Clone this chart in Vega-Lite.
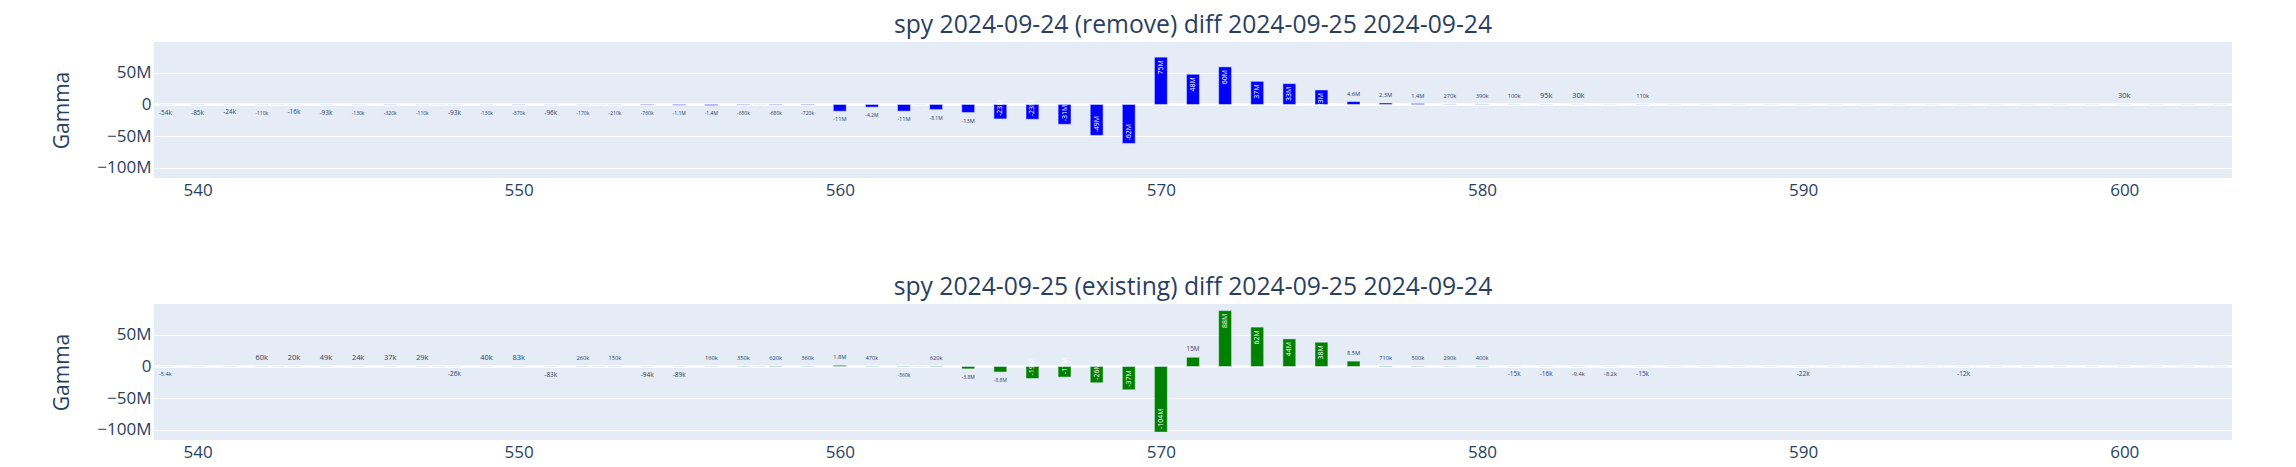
{
  "$schema": "https://vega.github.io/schema/vega-lite/v6.json",
  "autosize": {"type": "pad"},
  "padding": {"left": 51, "top": 12, "right": 64, "bottom": 5},
  "background": "white",
  "spacing": 126,
  "bounds": "flush",
  "config": {
    "view": {"fill": "#E5ECF6", "stroke": null},
    "font": "Open Sans",
    "title": {"fontSize": 24.7, "fontWeight": "normal", "color": "#2a3f5f", "font": "Open Sans", "offset": 4.5, "anchor": "middle"}
  },
  "datasets": {
    "top": [
      {"strike": 539, "gamma": -54000, "label": "-54k"},
      {"strike": 540, "gamma": -85000, "label": "-85k"},
      {"strike": 541, "gamma": -24000, "label": "-24k"},
      {"strike": 542, "gamma": -110000, "label": "-110k"},
      {"strike": 542.5, "gamma": -20000, "label": ""},
      {"strike": 543, "gamma": -16000, "label": "-16k"},
      {"strike": 544, "gamma": -93000, "label": "-93k"},
      {"strike": 545, "gamma": -130000, "label": "-130k"},
      {"strike": 546, "gamma": -320000, "label": "-320k"},
      {"strike": 547, "gamma": -110000, "label": "-110k"},
      {"strike": 547.5, "gamma": -20000, "label": ""},
      {"strike": 548, "gamma": -93000, "label": "-93k"},
      {"strike": 549, "gamma": -130000, "label": "-130k"},
      {"strike": 550, "gamma": -370000, "label": "-370k"},
      {"strike": 551, "gamma": -96000, "label": "-96k"},
      {"strike": 552, "gamma": -170000, "label": "-170k"},
      {"strike": 552.5, "gamma": -20000, "label": ""},
      {"strike": 553, "gamma": -210000, "label": "-210k"},
      {"strike": 554, "gamma": -760000, "label": "-760k"},
      {"strike": 555, "gamma": -1100000, "label": "-1.1M"},
      {"strike": 556, "gamma": -1400000, "label": "-1.4M"},
      {"strike": 557, "gamma": -650000, "label": "-650k"},
      {"strike": 557.5, "gamma": -20000, "label": ""},
      {"strike": 558, "gamma": -680000, "label": "-680k"},
      {"strike": 559, "gamma": -720000, "label": "-720k"},
      {"strike": 560, "gamma": -10700000, "label": "-11M"},
      {"strike": 561, "gamma": -4200000, "label": "-4.2M"},
      {"strike": 562, "gamma": -10600000, "label": "-11M"},
      {"strike": 562.5, "gamma": -20000, "label": ""},
      {"strike": 563, "gamma": -8100000, "label": "-8.1M"},
      {"strike": 564, "gamma": -12800000, "label": "-13M"},
      {"strike": 565, "gamma": -22900000, "label": "-23M"},
      {"strike": 566, "gamma": -23400000, "label": "-23M"},
      {"strike": 567, "gamma": -31400000, "label": "-31M"},
      {"strike": 568, "gamma": -49000000, "label": "-49M"},
      {"strike": 569, "gamma": -61800000, "label": "-62M"},
      {"strike": 570, "gamma": 75000000, "label": "75M"},
      {"strike": 571, "gamma": 47900000, "label": "48M"},
      {"strike": 572, "gamma": 59600000, "label": "60M"},
      {"strike": 573, "gamma": 36700000, "label": "37M"},
      {"strike": 574, "gamma": 33000000, "label": "33M"},
      {"strike": 575, "gamma": 23000000, "label": "23M"},
      {"strike": 576, "gamma": 4600000, "label": "4.6M"},
      {"strike": 577, "gamma": 2300000, "label": "2.3M"},
      {"strike": 578, "gamma": 1400000, "label": "1.4M"},
      {"strike": 579, "gamma": 270000, "label": "270k"},
      {"strike": 580, "gamma": 390000, "label": "390k"},
      {"strike": 581, "gamma": 100000, "label": "100k"},
      {"strike": 582, "gamma": 95000, "label": "95k"},
      {"strike": 583, "gamma": 30000, "label": "30k"},
      {"strike": 584, "gamma": 0, "label": ""},
      {"strike": 585, "gamma": 110000, "label": "110k"},
      {"strike": 586, "gamma": 0, "label": ""},
      {"strike": 587, "gamma": 0, "label": ""},
      {"strike": 588, "gamma": 0, "label": ""},
      {"strike": 589, "gamma": 0, "label": ""},
      {"strike": 590, "gamma": 0, "label": ""},
      {"strike": 591, "gamma": 0, "label": ""},
      {"strike": 592, "gamma": 0, "label": ""},
      {"strike": 593, "gamma": 0, "label": ""},
      {"strike": 594, "gamma": 0, "label": ""},
      {"strike": 595, "gamma": 0, "label": ""},
      {"strike": 596, "gamma": 0, "label": ""},
      {"strike": 597, "gamma": 0, "label": ""},
      {"strike": 598, "gamma": 0, "label": ""},
      {"strike": 599, "gamma": 0, "label": ""},
      {"strike": 600, "gamma": 30000, "label": "30k"},
      {"strike": 601, "gamma": 0, "label": ""},
      {"strike": 602, "gamma": 0, "label": ""},
      {"strike": 603, "gamma": 0, "label": ""}
    ],
    "bottom": [
      {"strike": 539, "gamma": -5400, "label": "-5.4k"},
      {"strike": 540, "gamma": 0, "label": ""},
      {"strike": 541, "gamma": 0, "label": ""},
      {"strike": 542, "gamma": 60000, "label": "60k"},
      {"strike": 542.5, "gamma": 0, "label": ""},
      {"strike": 543, "gamma": 20000, "label": "20k"},
      {"strike": 544, "gamma": 49000, "label": "49k"},
      {"strike": 545, "gamma": 24000, "label": "24k"},
      {"strike": 546, "gamma": 37000, "label": "37k"},
      {"strike": 547, "gamma": 29000, "label": "29k"},
      {"strike": 547.5, "gamma": 0, "label": ""},
      {"strike": 548, "gamma": -26000, "label": "-26k"},
      {"strike": 549, "gamma": 40000, "label": "40k"},
      {"strike": 550, "gamma": 83000, "label": "83k"},
      {"strike": 551, "gamma": -83000, "label": "-83k"},
      {"strike": 552, "gamma": 260000, "label": "260k"},
      {"strike": 552.5, "gamma": 0, "label": ""},
      {"strike": 553, "gamma": 150000, "label": "150k"},
      {"strike": 554, "gamma": -94000, "label": "-94k"},
      {"strike": 555, "gamma": -89000, "label": "-89k"},
      {"strike": 556, "gamma": 160000, "label": "160k"},
      {"strike": 557, "gamma": 350000, "label": "350k"},
      {"strike": 557.5, "gamma": 0, "label": ""},
      {"strike": 558, "gamma": 620000, "label": "620k"},
      {"strike": 559, "gamma": 360000, "label": "360k"},
      {"strike": 560, "gamma": 1800000, "label": "1.8M"},
      {"strike": 561, "gamma": 470000, "label": "470k"},
      {"strike": 562, "gamma": -560000, "label": "-560k"},
      {"strike": 562.5, "gamma": 0, "label": ""},
      {"strike": 563, "gamma": 620000, "label": "620k"},
      {"strike": 564, "gamma": -3800000, "label": "-3.8M"},
      {"strike": 565, "gamma": -8800000, "label": "-8.8M"},
      {"strike": 566, "gamma": -19000000, "label": "-19M"},
      {"strike": 567, "gamma": -16800000, "label": "-17M"},
      {"strike": 568, "gamma": -25800000, "label": "-26M"},
      {"strike": 569, "gamma": -36900000, "label": "-37M"},
      {"strike": 570, "gamma": -104000000, "label": "-104M"},
      {"strike": 571, "gamma": 14600000, "label": "15M"},
      {"strike": 572, "gamma": 88500000, "label": "88M"},
      {"strike": 573, "gamma": 62400000, "label": "62M"},
      {"strike": 574, "gamma": 43700000, "label": "44M"},
      {"strike": 575, "gamma": 38400000, "label": "38M"},
      {"strike": 576, "gamma": 8500000, "label": "8.5M"},
      {"strike": 577, "gamma": 710000, "label": "710k"},
      {"strike": 578, "gamma": 500000, "label": "500k"},
      {"strike": 579, "gamma": 290000, "label": "290k"},
      {"strike": 580, "gamma": 400000, "label": "400k"},
      {"strike": 581, "gamma": -15000, "label": "-15k"},
      {"strike": 582, "gamma": -16000, "label": "-16k"},
      {"strike": 583, "gamma": -9400, "label": "-9.4k"},
      {"strike": 584, "gamma": -8200, "label": "-8.2k"},
      {"strike": 585, "gamma": -15000, "label": "-15k"},
      {"strike": 586, "gamma": 0, "label": ""},
      {"strike": 587, "gamma": 0, "label": ""},
      {"strike": 588, "gamma": 0, "label": ""},
      {"strike": 589, "gamma": 0, "label": ""},
      {"strike": 590, "gamma": -22000, "label": "-22k"},
      {"strike": 591, "gamma": 0, "label": ""},
      {"strike": 592, "gamma": 0, "label": ""},
      {"strike": 593, "gamma": 0, "label": ""},
      {"strike": 594, "gamma": 0, "label": ""},
      {"strike": 595, "gamma": -12000, "label": "-12k"},
      {"strike": 596, "gamma": 0, "label": ""},
      {"strike": 597, "gamma": 0, "label": ""},
      {"strike": 598, "gamma": 0, "label": ""},
      {"strike": 599, "gamma": 0, "label": ""},
      {"strike": 600, "gamma": 0, "label": ""},
      {"strike": 601, "gamma": 0, "label": ""},
      {"strike": 602, "gamma": 0, "label": ""},
      {"strike": 603, "gamma": 0, "label": ""}
    ]
  },
  "vconcat": [
    {
      "width": 2078,
      "height": 136,
      "title": "spy 2024-09-24 (remove) diff 2024-09-25 2024-09-24",
      "data": {"name": "top"},
      "encoding": {
        "x": {"field": "strike", "type": "quantitative",
          "scale": {"domain": [538.8, 603.2], "nice": false, "zero": false},
          "axis": {"values": [540, 550, 560, 570, 580, 590, 600], "grid": false, "domain": false, "ticks": false, "tickSize": 0, "labelFontSize": 17, "labelColor": "#2a3f5f", "labelFont": "Open Sans", "labelPadding": 4, "title": null, "labelFlush": false, "labelOverlap": false}},
        "y": {"field": "gamma", "type": "quantitative", "stack": null,
          "scale": {"domain": [-116500000, 99000000], "nice": false},
          "axis": {"values": [-100000000, -50000000, 0, 50000000], "labelExpr": "datum.value == 0 ? '0' : format(datum.value / 1000000, 'd') + 'M'", "grid": true, "gridColor": "white", "gridWidth": {"condition": {"test": "datum.value === 0", "value": 2.4}, "value": 1.2}, "domain": false, "ticks": false, "tickSize": 0, "labelFontSize": 17, "labelColor": "#2a3f5f", "labelFont": "Open Sans", "labelPadding": 3, "title": "Gamma", "titleFontSize": 21, "titleColor": "#2a3f5f", "titleFont": "Open Sans", "titleFontWeight": "normal", "titleX": -92, "titleY": 68, "titleAngle": 270, "titleAlign": "center", "titleBaseline": "middle"}}
      },
      "layer": [
        {"mark": {"type": "bar", "width": 12.9, "color": "blue", "stroke": "#E5ECF6", "strokeWidth": 0.5}},
        {"transform": [{"filter": "datum.label != '' && datum.gamma >= 0 && datum.gamma < 16000000"}],
         "mark": {"type": "text", "baseline": "middle", "dy": -8, "color": "#2a3f5f", "font": "Open Sans"},
         "encoding": {"text": {"field": "label"},
           "size": {"condition": [
             {"test": "length(datum.label) <= 3 && indexof(datum.label, 'M') < 0", "value": 7.4},
             {"test": "length(datum.label) <= 3", "value": 6.3},
             {"test": "length(datum.label) == 4 && indexof(datum.label, '-') == 0 && indexof(datum.label, 'M') < 0", "value": 6.5},
             {"test": "length(datum.label) == 4", "value": 5.7},
             {"test": "length(datum.label) == 5 && indexof(datum.label, '.') >= 0 && indexof(datum.label, 'k') >= 0", "value": 5.7}
           ], "value": 5.0}}},
        {"transform": [{"filter": "datum.label != '' && datum.gamma < 0 && datum.gamma > -16000000"}],
         "mark": {"type": "text", "baseline": "middle", "dy": 8, "color": "#2a3f5f", "font": "Open Sans"},
         "encoding": {"text": {"field": "label"},
           "size": {"condition": [
             {"test": "length(datum.label) <= 3 && indexof(datum.label, 'M') < 0", "value": 7.4},
             {"test": "length(datum.label) <= 3", "value": 6.3},
             {"test": "length(datum.label) == 4 && indexof(datum.label, '-') == 0 && indexof(datum.label, 'M') < 0", "value": 6.5},
             {"test": "length(datum.label) == 4", "value": 5.7},
             {"test": "length(datum.label) == 5 && indexof(datum.label, '.') >= 0 && indexof(datum.label, 'k') >= 0", "value": 5.7}
           ], "value": 5.0}}},
        {"transform": [{"filter": "datum.gamma >= 16000000"}],
         "mark": {"type": "text", "angle": 270, "align": "right", "baseline": "middle", "dx": -3, "color": "white", "fontSize": 7, "font": "Open Sans"},
         "encoding": {"text": {"field": "label"}}},
        {"transform": [{"filter": "datum.gamma <= -16000000"}],
         "mark": {"type": "text", "angle": 270, "align": "left", "baseline": "middle", "dx": 3, "color": "white", "fontSize": 7, "font": "Open Sans"},
         "encoding": {"text": {"field": "label"}}}
      ]
    },
    {
      "width": 2078,
      "height": 136,
      "title": "spy 2024-09-25 (existing) diff 2024-09-25 2024-09-24",
      "data": {"name": "bottom"},
      "encoding": {
        "x": {"field": "strike", "type": "quantitative",
          "scale": {"domain": [538.8, 603.2], "nice": false, "zero": false},
          "axis": {"values": [540, 550, 560, 570, 580, 590, 600], "grid": false, "domain": false, "ticks": false, "tickSize": 0, "labelFontSize": 17, "labelColor": "#2a3f5f", "labelFont": "Open Sans", "labelPadding": 4, "title": null, "labelFlush": false, "labelOverlap": false}},
        "y": {"field": "gamma", "type": "quantitative", "stack": null,
          "scale": {"domain": [-116500000, 99000000], "nice": false},
          "axis": {"values": [-100000000, -50000000, 0, 50000000], "labelExpr": "datum.value == 0 ? '0' : format(datum.value / 1000000, 'd') + 'M'", "grid": true, "gridColor": "white", "gridWidth": {"condition": {"test": "datum.value === 0", "value": 2.4}, "value": 1.2}, "domain": false, "ticks": false, "tickSize": 0, "labelFontSize": 17, "labelColor": "#2a3f5f", "labelFont": "Open Sans", "labelPadding": 3, "title": "Gamma", "titleFontSize": 21, "titleColor": "#2a3f5f", "titleFont": "Open Sans", "titleFontWeight": "normal", "titleX": -92, "titleY": 68, "titleAngle": 270, "titleAlign": "center", "titleBaseline": "middle"}}
      },
      "layer": [
        {"mark": {"type": "bar", "width": 12.9, "color": "green", "stroke": "#E5ECF6", "strokeWidth": 0.5}},
        {"transform": [{"filter": "datum.label != '' && datum.gamma >= 0 && datum.gamma < 16000000"}],
         "mark": {"type": "text", "baseline": "middle", "dy": -8, "color": "#2a3f5f", "font": "Open Sans"},
         "encoding": {"text": {"field": "label"},
           "size": {"condition": [
             {"test": "length(datum.label) <= 3 && indexof(datum.label, 'M') < 0", "value": 7.4},
             {"test": "length(datum.label) <= 3", "value": 6.3},
             {"test": "length(datum.label) == 4 && indexof(datum.label, '-') == 0 && indexof(datum.label, 'M') < 0", "value": 6.5},
             {"test": "length(datum.label) == 4", "value": 5.7},
             {"test": "length(datum.label) == 5 && indexof(datum.label, '.') >= 0 && indexof(datum.label, 'k') >= 0", "value": 5.7}
           ], "value": 5.0}}},
        {"transform": [{"filter": "datum.label != '' && datum.gamma < 0 && datum.gamma > -16000000"}],
         "mark": {"type": "text", "baseline": "middle", "dy": 8, "color": "#2a3f5f", "font": "Open Sans"},
         "encoding": {"text": {"field": "label"},
           "size": {"condition": [
             {"test": "length(datum.label) <= 3 && indexof(datum.label, 'M') < 0", "value": 7.4},
             {"test": "length(datum.label) <= 3", "value": 6.3},
             {"test": "length(datum.label) == 4 && indexof(datum.label, '-') == 0 && indexof(datum.label, 'M') < 0", "value": 6.5},
             {"test": "length(datum.label) == 4", "value": 5.7},
             {"test": "length(datum.label) == 5 && indexof(datum.label, '.') >= 0 && indexof(datum.label, 'k') >= 0", "value": 5.7}
           ], "value": 5.0}}},
        {"transform": [{"filter": "datum.gamma >= 16000000"}],
         "mark": {"type": "text", "angle": 270, "align": "right", "baseline": "middle", "dx": -3, "color": "white", "fontSize": 7, "font": "Open Sans"},
         "encoding": {"text": {"field": "label"}}},
        {"transform": [{"filter": "datum.gamma <= -16000000"}],
         "mark": {"type": "text", "angle": 270, "align": "left", "baseline": "middle", "dx": 3, "color": "white", "fontSize": 7, "font": "Open Sans"},
         "encoding": {"text": {"field": "label"}}}
      ]
    }
  ]
}
